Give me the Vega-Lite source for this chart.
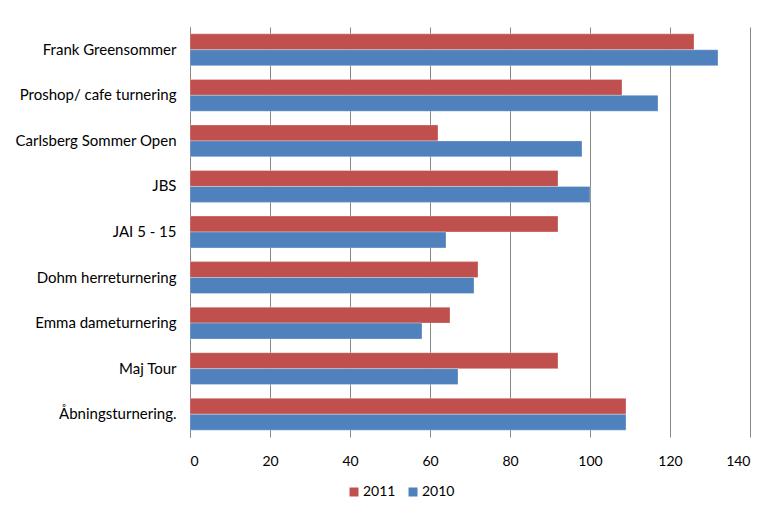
{
  "$schema": "https://vega.github.io/schema/vega-lite/v6.json",
  "autosize": {"type": "none"},
  "width": 560,
  "height": 410,
  "padding": {"left": 190, "top": 27, "right": 25, "bottom": 75},
  "background": "white",
  "data": {
    "values": [
      {"event": "Frank Greensommer", "year": "2011", "value": 126},
      {"event": "Frank Greensommer", "year": "2010", "value": 132},
      {"event": "Proshop/ cafe turnering", "year": "2011", "value": 108},
      {"event": "Proshop/ cafe turnering", "year": "2010", "value": 117},
      {"event": "Carlsberg Sommer Open", "year": "2011", "value": 62},
      {"event": "Carlsberg Sommer Open", "year": "2010", "value": 98},
      {"event": "JBS", "year": "2011", "value": 92},
      {"event": "JBS", "year": "2010", "value": 100},
      {"event": "JAI 5 - 15", "year": "2011", "value": 92},
      {"event": "JAI 5 - 15", "year": "2010", "value": 64},
      {"event": "Dohm herreturnering", "year": "2011", "value": 72},
      {"event": "Dohm herreturnering", "year": "2010", "value": 71},
      {"event": "Emma dameturnering", "year": "2011", "value": 65},
      {"event": "Emma dameturnering", "year": "2010", "value": 58},
      {"event": "Maj Tour", "year": "2011", "value": 92},
      {"event": "Maj Tour", "year": "2010", "value": 67},
      {"event": "Åbningsturnering.", "year": "2011", "value": 109},
      {"event": "Åbningsturnering.", "year": "2010", "value": 109}
    ]
  },
  "mark": {"type": "bar", "strokeWidth": 0.6, "strokeOpacity": 0.5, "stroke": "white"},
  "encoding": {
    "y": {
      "field": "event",
      "type": "nominal",
      "sort": null,
      "scale": {"paddingInner": 0.3, "paddingOuter": 0.15},
      "axis": {
        "title": null,
        "labelFont": "Lato",
        "labelFontSize": 15,
        "labelColor": "#000000",
        "labelPadding": 14,
        "ticks": false,
        "domain": true,
        "domainColor": "#868686",
        "domainWidth": 1,
        "labelLimit": 300
      }
    },
    "yOffset": {
      "field": "year",
      "type": "nominal",
      "scale": {"domain": ["2011", "2010"], "paddingInner": 0, "paddingOuter": 0}
    },
    "x": {
      "field": "value",
      "type": "quantitative",
      "scale": {"domain": [0, 140], "nice": false},
      "axis": {
        "title": null,
        "values": [0, 20, 40, 60, 80, 100, 120, 140],
        "grid": true,
        "gridColor": "#868686",
        "gridWidth": 1,
        "domain": false,
        "ticks": false,
        "labelFont": "Lato",
        "labelFontSize": 14,
        "labelColor": "#000000",
        "labelPadding": 17
      }
    },
    "color": {
      "field": "year",
      "type": "nominal",
      "scale": {"domain": ["2011", "2010"], "range": ["#C0504D", "#4F81BD"]},
      "legend": {
        "title": null,
        "orient": "none",
        "direction": "horizontal",
        "legendX": 157,
        "legendY": 458,
        "symbolType": "square",
        "symbolSize": 81,
        "symbolStrokeWidth": 0,
        "labelFont": "Lato",
        "labelFontSize": 14,
        "labelColor": "#000000",
        "columnPadding": 10,
        "labelOffset": 2
      }
    }
  },
  "config": {"view": {"stroke": null}}
}
